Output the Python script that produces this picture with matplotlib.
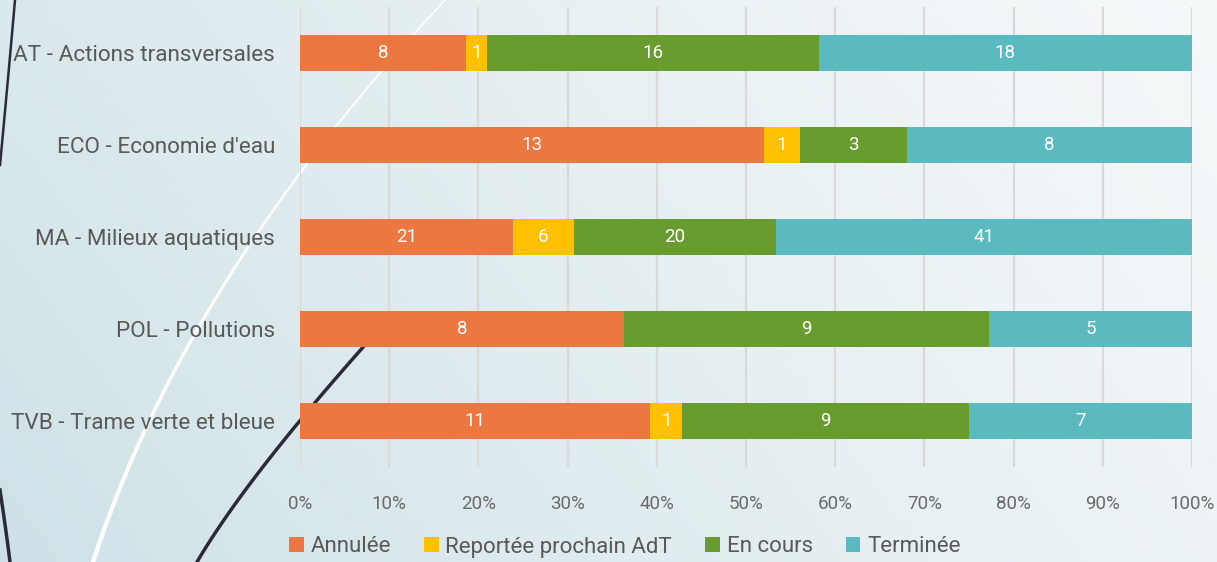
import numpy as np
import matplotlib
matplotlib.use("Agg")
import matplotlib.pyplot as plt
from matplotlib.patches import Patch

categories = ["AT - Actions transversales", "ECO - Economie d'eau", "MA - Milieux aquatiques",
              "POL - Pollutions", "TVB - Trame verte et bleue"]
series_names = ["Annulée", "Reportée prochain AdT", "En cours", "Terminée"]
annulee = [8, 13, 21, 8, 11]
reportee = [1, 1, 6, 0, 1]
en_cours = [16, 3, 20, 9, 9]
terminee = [18, 8, 41, 5, 7]
tick_labels = ["0%", "10%", "20%", "30%", "40%", "50%", "60%", "70%", "80%", "90%", "100%"]
colors = ["#ED7740", "#FFC000", "#699C2E", "#5BB9C0"]

plt.rcParams['font.family'] = ['Roboto', 'DejaVu Sans']
W, H = 1217, 562
fig = plt.figure(figsize=(W / 100, H / 100), dpi=100)

# background gradient
bg = fig.add_axes([0, 0, 1, 1], zorder=0)
xs = np.linspace(0, 1, 300)
ys = np.linspace(0, 1, 140)
X, Y = np.meshgrid(xs, ys)
t = np.clip(0.75 * X + 0.25 * (1 - Y), 0, 1) ** 0.8
c0 = np.array([0.80, 0.88, 0.90])
c1 = np.array([0.965, 0.975, 0.98])
img = c0[None, None, :] * (1 - t[..., None]) + c1[None, None, :] * t[..., None]
bg.imshow(img, extent=[0, W, H, 0], aspect='auto', origin='upper')
bg.set_xlim(0, W)
bg.set_ylim(H, 0)
bg.axis('off')

def bez(pts, n=80):
    p = np.array(pts, float)
    tt = np.linspace(0, 1, n)
    return ((1 - tt) ** 2)[:, None] * p[0] + (2 * (1 - tt) * tt)[:, None] * p[1] + (tt ** 2)[:, None] * p[2]

# white curve, thick at bottom and thinning toward the top
q = bez([(93, 562), (185, 279), (445, 0)])
for k in range(len(q) - 1):
    lw = 3.2 - 2.2 * k / (len(q) - 1)
    bg.plot(q[k:k + 2, 0], q[k:k + 2, 1], color='white', lw=lw, solid_capstyle='round')
q = bez([(197, 562), (245, 480), (365, 345)])
bg.plot(q[:, 0], q[:, 1], color='#2b2a3a', lw=2.5)
q = bez([(15, 0), (8, 80), (0, 165)])
bg.plot(q[:, 0], q[:, 1], color='#2b2a3a', lw=1.8)
q = bez([(0, 490), (6, 530), (10, 562)])
bg.plot(q[:, 0], q[:, 1], color='#2b2a3a', lw=2.5)

ax = fig.add_axes([300 / W, 1 - 467 / H, 892 / W, 460 / H], zorder=1)
ax.patch.set_alpha(0)
data = np.array([annulee, reportee, en_cours, terminee], float)
totals = data.sum(axis=0)
pct = data / totals
y = np.arange(len(categories))
left = np.zeros(len(categories))
for i, name in enumerate(series_names):
    ax.barh(y, pct[i], left=left, height=0.4, color=colors[i], label=name, zorder=3)
    for j in range(len(categories)):
        if data[i, j] > 0:
            ax.text(left[j] + pct[i, j] / 2, y[j], f"{int(data[i, j])}", ha='center', va='center',
                    color='white', fontsize=13.5, zorder=4)
    left += pct[i]

ax.set_ylim(len(categories) - 0.5, -0.5)
ax.set_xlim(0, 1)
ax.set_xticks(np.linspace(0, 1, 11))
ax.set_xticklabels(tick_labels, fontsize=13.5, color='#6a6a6a')
ax.set_yticks(y)
ax.set_yticklabels(categories, fontsize=16.2, color='#595959')
ax.tick_params(axis='both', length=0)
ax.tick_params(axis='x', pad=20)
ax.tick_params(axis='y', pad=18)
for s in ax.spines.values():
    s.set_visible(False)
ax.grid(axis='x', color='#d9d9d9', lw=1.6, zorder=0)
ax.set_axisbelow(True)

handles = [Patch(facecolor=c, edgecolor='none') for c in colors]
fig.legend(handles, series_names, loc='center', bbox_to_anchor=(625 / W, 1 - 547 / H), ncol=4,
           frameon=False, fontsize=16, handlelength=0.65, handleheight=0.65, handletextpad=0.3,
           columnspacing=1.5, labelcolor='#595959')

fig.savefig("out.png", dpi=100)
